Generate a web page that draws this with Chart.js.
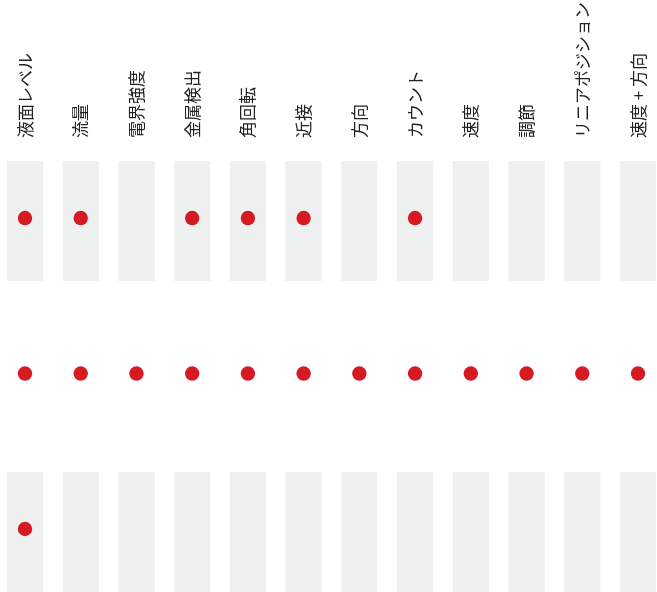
<!DOCTYPE html>
<html lang="ja">
<head>
<meta charset="utf-8">
<title>センサー機能一覧</title>
<script src="https://cdn.jsdelivr.net/npm/chart.js@4.4.1/dist/chart.umd.min.js"></script>
<style>
  html, body { margin: 0; padding: 0; background: #fff; }
  #wrap { width: 657px; height: 592px; position: relative; }
</style>
</head>
<body>
<div id="wrap"><canvas id="chart"></canvas></div>
<script>
// categories (column headers)
const categories = [
  "液面レベル", "流量", "電界強度", "金属検出", "角回転", "近接",
  "方向", "カウント", "速度", "調節", "リニアポジション", "速度 + 方向"
];

// one flag per category for each row: 1 = dot shown
const row1 = [1, 1, 0, 1, 1, 1, 0, 1, 0, 0, 0, 0];
const row2 = [1, 1, 1, 1, 1, 1, 1, 1, 1, 1, 1, 1];
const row3 = [1, 0, 0, 0, 0, 0, 0, 0, 0, 0, 0, 0];
const rows = [row1, row2, row3];

// rows that get the grey column bands
const bandRows = [0, 2];

const dotColor = "rgb(214, 26, 34)";
const bandColor = "rgb(239, 240, 240)";

// turn flags into points
const points = [];
rows.forEach((row, r) => {
  row.forEach((flag, i) => {
    if (flag) points.push({ x: categories[i], y: r });
  });
});

const datasets = [
  {
    type: "scatter",
    data: points,
    backgroundColor: dotColor,
    borderWidth: 0,
    pointRadius: 7.2,
    pointHoverRadius: 7.2,
    clip: false,
    order: 0,
  },
];

bandRows.forEach((r) => {
  datasets.push({
    type: "bar",
    data: categories.map((c) => ({ x: c, y: [r - 0.367, r + 0.405] })),
    backgroundColor: bandColor,
    borderWidth: 0,
    grouped: false,
    categoryPercentage: 1,
    barPercentage: 0.65,
    clip: false,
    order: 1,
  });
});

new Chart(document.getElementById("chart"), {
  type: "bar",
  data: { labels: categories, datasets: datasets },
  options: {
    responsive: true,
    maintainAspectRatio: false,
    animation: false,
    layout: {
      autoPadding: false,
      padding: { left: 25, right: 19, top: 0, bottom: 0 },
    },
    plugins: {
      legend: { display: false },
      tooltip: { enabled: false },
    },
    scales: {
      x: {
        type: "category",
        position: "top",
        offset: false,
        grid: { display: false, drawTicks: false },
        border: { display: false },
        ticks: {
          autoSkip: false,
          minRotation: 90,
          maxRotation: 90,
          padding: 23,
          labelOffset: 20.5,
          color: "#222",
          font: { family: "'Noto Sans CJK JP', 'Noto Sans', sans-serif", size: 17 },
        },
        afterFit(scale) {
          // header band is 161px tall, no extra side padding
          scale.height = 161;
          scale.paddingLeft = 0;
          scale.paddingRight = 0;
          scale.paddingTop = 0;
          scale.paddingBottom = 0;
        },
      },
      y: {
        display: false,
        reverse: true,
        min: -0.367,
        max: 2.405,
      },
    },
  },
});
</script>
</body>
</html>
